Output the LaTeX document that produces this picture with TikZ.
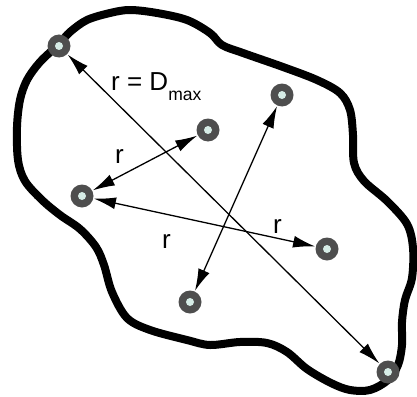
\documentclass[tikz,border=0pt]{standalone}
\usepackage{fontspec}
\setmainfont{Liberation Sans}
\usetikzlibrary{arrows.meta}
\definecolor{ringgray}{HTML}{4E4E4E}
\definecolor{ringcore}{HTML}{D6ECE6}
\begin{document}
\begin{tikzpicture}[x=1pt,y=-1pt,
  pt/.style={circle,minimum size=24pt,inner sep=0pt},
  dist/.style={line width=1.3pt,{Latex[length=22pt,width=12pt]}-{Latex[length=22pt,width=12pt]}},
  lbl/.style={anchor=base west,inner sep=0pt,font=\fontsize{26}{30}\selectfont}]
\useasboundingbox (0,0) rectangle (417,396);
\node[pt] (p1) at (59,46) {};
\node[pt] (p2) at (282,95) {};
\node[pt] (p3) at (208,130) {};
\node[pt] (p4) at (82,196) {};
\node[pt] (p5) at (327,249) {};
\node[pt] (p6) at (190,302) {};
\node[pt] (p7) at (388,372) {};
% outline
\draw[line width=8pt,line join=round] plot[smooth cycle,tension=0.55] coordinates {
 (59,44) (70,32) (87,20) (110,13) (130,10) (157,13) (187,20) (210,33) (222,45)
 (243,53) (283,67) (317,80) (340,93) (350,110) (353,135) (354,163) (364,181)
 (387,201) (407,224) (413,248) (412,278) (405,300) (402,322) (402,345) (398,365)
 (388,380) (370,390) (350,390) (331,383) (307,369) (287,352) (267,343) (240,342)
 (210,345) (187,340) (150,330) (127,318) (112,292) (104,265) (96,247) (80,229)
 (60,215) (42,200) (25,181) (18,160) (17,127) (20,100) (27,80) (40,62)};
% arrows
\draw[dist] (p1) -- (p7);
\draw[dist] (p4) -- (p3);
\draw[dist] (p4) -- (p5);
\draw[dist] (p6) -- (p2);
% rings
\foreach \p in {p1,p2,p3,p4,p5,p6,p7}{
  \fill[ringgray] (\p) circle (11.5);
  \fill[ringcore] (\p) circle (4);
}
% labels
\node[lbl] (l1) at (111,90) {r = D\raisebox{-10pt}{\fontsize{17.5}{20}\selectfont max}};
\node[lbl] (l2) at (115,163) {r};
\node[lbl] (l3) at (162,248) {r};
\node[lbl] (l4) at (273,233) {r};
\end{tikzpicture}
\end{document}
